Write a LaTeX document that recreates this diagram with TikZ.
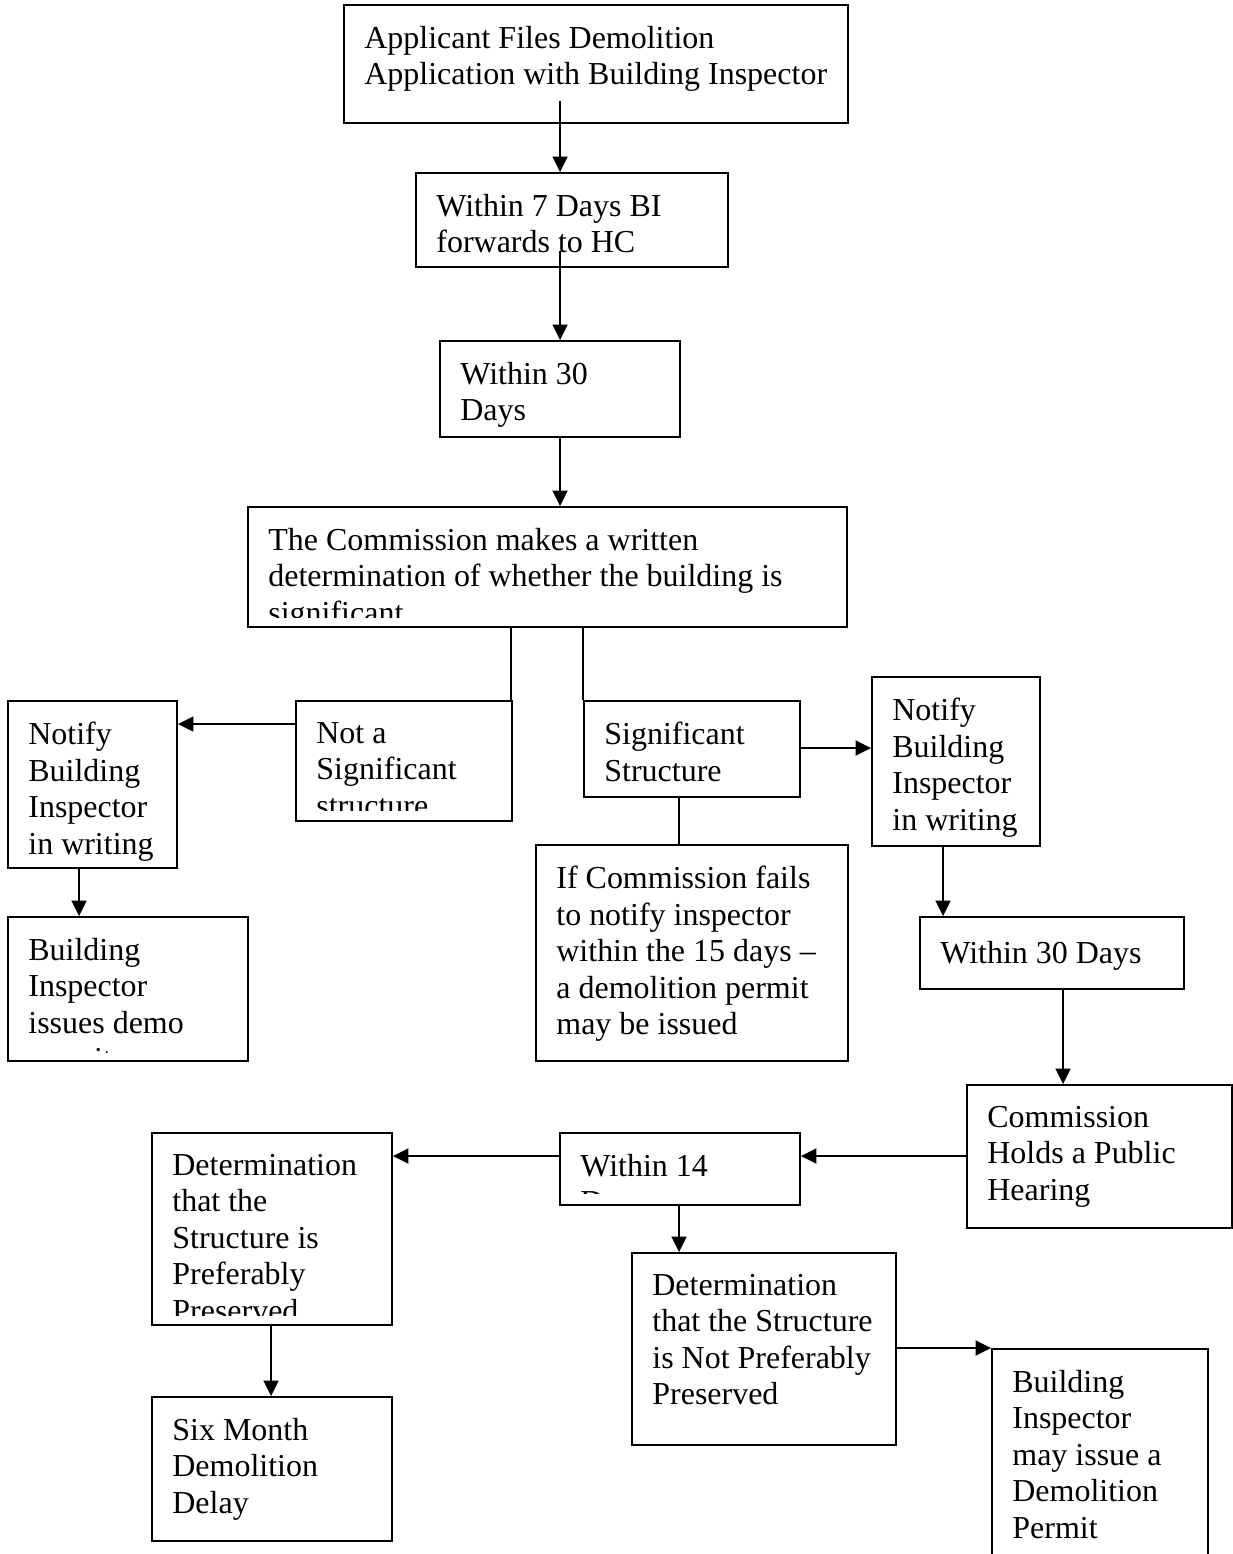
\documentclass[tikz,border=0pt]{standalone}
\usepackage{fontspec}
\setmainfont{Liberation Serif}
\usetikzlibrary{arrows.meta,fit,calc}

\tikzset{
  box/.style={draw, line width=1.1pt, inner sep=0pt},
  txt/.style={anchor=north west, inner sep=0pt, align=left,
    font=\fontsize{18.2}{20.8}\selectfont, execute at begin node=\strut,
    xshift=0.42cm, yshift=-0.435cm},
  arr/.style={line width=1.1pt, -{Triangle[length=0.31cm,width=0.3cm]}},
  lnk/.style={line width=1.1pt}
}

\begin{document}
\begin{tikzpicture}[x=0.02cm, y=-0.02cm]
  \useasboundingbox (0,0) rectangle (1233,1554);

  % boxes
  \node[box, fit={(344,5) (848,123)}] (app) {};
  \node[box, fit={(416,173) (728,267)}] (d7) {};
  \node[box, fit={(440,341) (680,437)}] (d30) {};
  \node[box, fit={(248,507) (847,627)}] (comm) {};
  \node[box, fit={(296,701) (512,821)}] (notsig) {};
  \node[box, fit={(584,701) (800,797)}] (sig) {};
  \node[box, fit={(8,701) (177,868)}] (notifyL) {};
  \node[box, fit={(872,677) (1040,846)}] (notifyR) {};
  \node[box, fit={(8,917) (248,1061)}] (bidemo) {};
  \node[box, fit={(536,845) (848,1061)}] (fails) {};
  \node[box, fit={(920,917) (1184,989)}] (w30) {};
  \node[box, fit={(967,1085) (1232,1228)}] (hear) {};
  \node[box, fit={(560,1133) (800,1205)}] (w14) {};
  \node[box, fit={(152,1133) (392,1325)}] (pref) {};
  \node[box, fit={(152,1397) (392,1541)}] (delay) {};
  \node[box, fit={(632,1253) (896,1445)}] (notpref) {};
  \node[box, fit={(992,1349) (1208,1580)}] (permit) {};

  % texts
  \node[txt] at (app.north west) {Applicant Files Demolition\\Application with Building Inspector};
  \node[txt] at (d7.north west) {Within 7 Days BI\\forwards to HC};
  \node[txt] at (d30.north west) {Within 30\\Days};
  \begin{scope}
    \clip (248,507) rectangle (847,617);
    \node[txt] at (comm.north west) {The Commission makes a written\\determination of whether the building is\\significant};
  \end{scope}
  \begin{scope}
    \clip (296,701) rectangle (512,810);
    \node[txt] at (notsig.north west) {Not a\\Significant\\structure};
  \end{scope}
  \node[txt] at (sig.north west) {Significant\\Structure};
  \node[txt] at (notifyL.north west) {Notify\\Building\\Inspector\\in writing};
  \node[txt] at (notifyR.north west) {Notify\\Building\\Inspector\\in writing};
  \begin{scope}
    \clip (8,917) rectangle (248,1052);
    \node[txt] at (bidemo.north west) {Building\\Inspector\\issues demo\\permit};
  \end{scope}
  \node[txt] at (fails.north west) {If Commission fails\\to notify inspector\\within the 15 days –\\a demolition permit\\may be issued};
  \node[txt] at (w30.north west) {Within 30 Days};
  \node[txt] at (hear.north west) {Commission\\Holds a Public\\Hearing};
  \begin{scope}
    \clip (560,1133) rectangle (800,1193);
    \node[txt] at (w14.north west) {Within 14\\Days};
  \end{scope}
  \begin{scope}
    \clip (152,1133) rectangle (392,1315);
    \node[txt] at (pref.north west) {Determination\\that the\\Structure is\\Preferably\\Preserved};
  \end{scope}
  \node[txt] at (delay.north west) {Six Month\\Demolition\\Delay};
  \node[txt] at (notpref.north west) {Determination\\that the Structure\\is Not Preferably\\Preserved};
  \node[txt] at (permit.north west) {Building\\Inspector\\may issue a\\Demolition\\Permit};

  % connectors
  \draw[arr] ($(app.south west)+(217,-23)$) -- ($(d7.north west)+(145,0)$);
  \draw[arr] ($(d7.south west)+(145,-17)$) -- ($(d30.north west)+(121,0)$);
  \draw[arr] ($(d30.south west)+(121,0)$) -- ($(comm.north west)+(313,0)$);
  \draw[lnk] ($(comm.south west)+(264,0)$) coordinate (u) -- (u |- notsig.north);
  \draw[lnk] ($(comm.south west)+(336,0)$) coordinate (v) -- (v |- sig.north);
  \draw[arr] ($(notsig.north west)+(0,24)$) coordinate (p) -- (p -| notifyL.east);
  \draw[arr] ($(notifyL.south west)+(72,0)$) -- ($(bidemo.north west)+(72,0)$);
  \draw[arr] ($(sig.north east)+(0,48)$) coordinate (q) -- (q -| notifyR.west);
  \draw[lnk] ($(sig.south west)+(96,0)$) -- ($(fails.north west)+(144,0)$);
  \draw[arr] ($(notifyR.south west)+(72,0)$) -- ($(w30.north west)+(24,0)$);
  \draw[arr] ($(w30.south west)+(144,0)$) -- ($(hear.north west)+(97,0)$);
  \draw[arr] ($(hear.north west)+(0,72)$) coordinate (r) -- (r -| w14.east);
  \draw[arr] ($(w14.north west)+(0,24)$) coordinate (s) -- (s -| pref.east);
  \draw[arr] ($(w14.south west)+(120,0)$) -- ($(notpref.north west)+(48,0)$);
  \draw[arr] ($(pref.south west)+(120,0)$) -- ($(delay.north west)+(120,0)$);
  \draw[arr] ($(notpref.north east)+(0,96)$) coordinate (t) -- (t -| permit.west);
\end{tikzpicture}
\end{document}
